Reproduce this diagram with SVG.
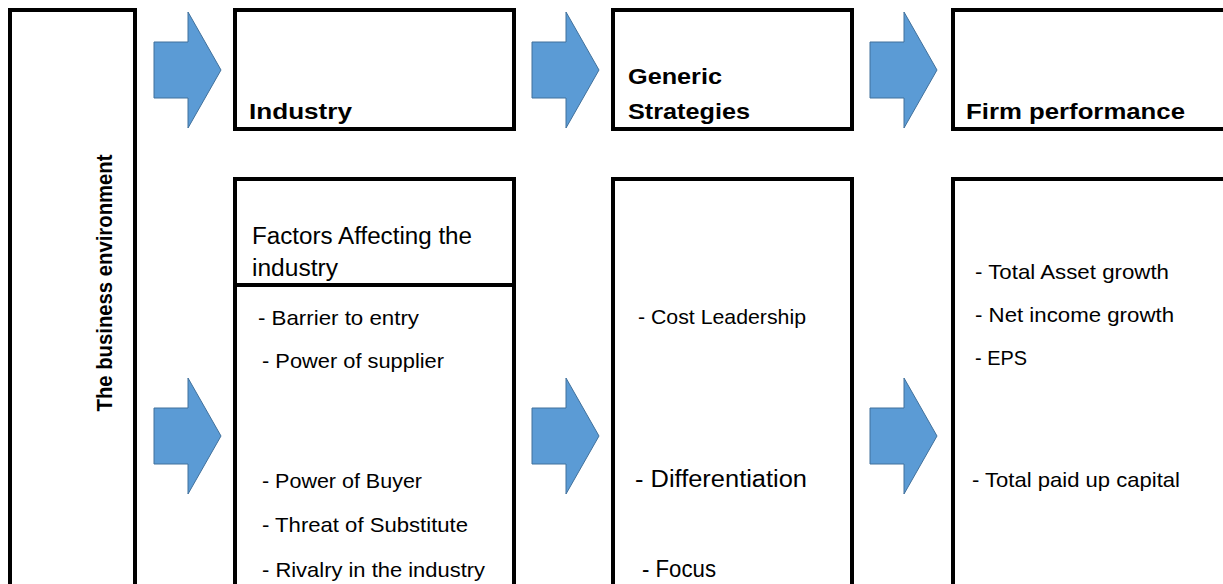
<svg xmlns="http://www.w3.org/2000/svg" width="1223" height="584" viewBox="0 0 1223 584">
  <style>
    .box { fill: #ffffff; stroke: #000000; stroke-width: 4; }
    .arrow { fill: #5B9BD5; stroke: #41719C; stroke-width: 1; }
    text { font-family: "Liberation Sans", Arial, sans-serif; fill: #000; }
    .title { font-weight: bold; font-size: 22px; }
    .item { font-size: 21px; }
    .big { font-size: 23px; }
  </style>
  <defs>
    <!-- right-pointing block arrow, 67 x 116 -->
    <path id="blockArrow" d="M0,30 H34 V0 L67,58 L34,116 V86 H0 Z"/>
  </defs>
  <rect width="1223" height="584" fill="#ffffff"/>

  <g id="environment">
    <rect class="box" x="10" y="10" width="125" height="600"/>
    <text class="title" transform="translate(112,283) rotate(-90)" text-anchor="middle" textLength="257" lengthAdjust="spacingAndGlyphs">The business environment</text>
  </g>

  <g id="industry">
    <rect class="box" x="235" y="10" width="279" height="119"/>
    <text class="title" x="249" y="119" textLength="103" lengthAdjust="spacingAndGlyphs">Industry</text>
  </g>

  <g id="strategies">
    <rect class="box" x="613" y="10" width="239" height="119"/>
    <text class="title" x="628" y="84" textLength="94" lengthAdjust="spacingAndGlyphs">Generic</text>
    <text class="title" x="628" y="119" textLength="122" lengthAdjust="spacingAndGlyphs">Strategies</text>
  </g>

  <g id="performance">
    <rect class="box" x="953" y="10" width="300" height="119"/>
    <text class="title" x="966" y="119" textLength="219" lengthAdjust="spacingAndGlyphs">Firm performance</text>
  </g>

  <g id="industry-factors">
    <rect class="box" x="235" y="179" width="279" height="450"/>
    <line x1="235" y1="285" x2="514" y2="285" stroke="#000" stroke-width="4"/>
    <text class="big" x="252" y="244" textLength="220" lengthAdjust="spacingAndGlyphs">Factors Affecting the</text>
    <text class="big" x="252" y="276" textLength="86" lengthAdjust="spacingAndGlyphs">industry</text>
    <text class="item" x="258" y="325" textLength="161" lengthAdjust="spacingAndGlyphs">- Barrier to entry</text>
    <text class="item" x="262" y="368" textLength="182" lengthAdjust="spacingAndGlyphs">- Power of supplier</text>
    <text class="item" x="262" y="488" textLength="160" lengthAdjust="spacingAndGlyphs">- Power of Buyer</text>
    <text class="item" x="262" y="532" textLength="206" lengthAdjust="spacingAndGlyphs">- Threat of Substitute</text>
    <text class="item" x="262" y="577" textLength="223" lengthAdjust="spacingAndGlyphs">- Rivalry in the industry</text>
  </g>

  <g id="strategy-types">
    <rect class="box" x="613" y="179" width="239" height="450"/>
    <text class="big" x="638" y="324" style="font-size:21px" textLength="168" lengthAdjust="spacingAndGlyphs">- Cost Leadership</text>
    <text class="big" x="635" y="487" textLength="172" lengthAdjust="spacingAndGlyphs">- Differentiation</text>
    <text class="big" x="642" y="577" textLength="74" lengthAdjust="spacingAndGlyphs">- Focus</text>
  </g>

  <g id="performance-measures">
    <rect class="box" x="953" y="179" width="300" height="450"/>
    <text class="item" x="975" y="279" textLength="194" lengthAdjust="spacingAndGlyphs">- Total Asset growth</text>
    <text class="item" x="975" y="322" textLength="199" lengthAdjust="spacingAndGlyphs">- Net income growth</text>
    <text class="item" x="975" y="365" textLength="52" lengthAdjust="spacingAndGlyphs">- EPS</text>
    <text class="item" x="972" y="487" textLength="208" lengthAdjust="spacingAndGlyphs">- Total paid up capital</text>
  </g>

  <g id="connectors">
    <use href="#blockArrow" class="arrow" transform="translate(154,12)"/>
    <use href="#blockArrow" class="arrow" transform="translate(532,12)"/>
    <use href="#blockArrow" class="arrow" transform="translate(870,12)"/>
    <use href="#blockArrow" class="arrow" transform="translate(154,378)"/>
    <use href="#blockArrow" class="arrow" transform="translate(532,378)"/>
    <use href="#blockArrow" class="arrow" transform="translate(870,378)"/>
  </g>
</svg>
